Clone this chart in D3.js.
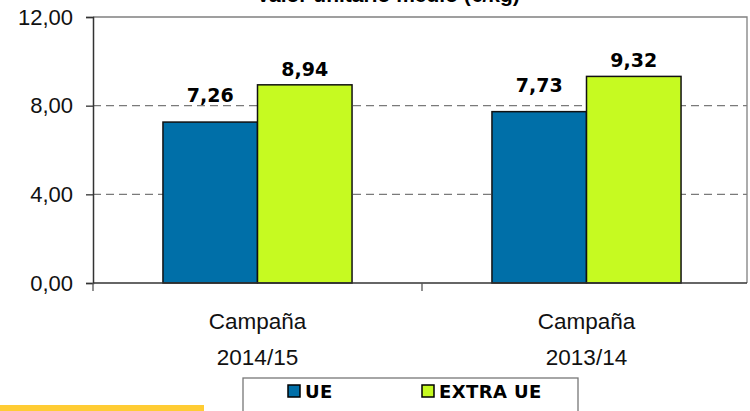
<!DOCTYPE html>
<html>
<head>
<meta charset="utf-8">
<script src="https://cdn.jsdelivr.net/npm/d3@7"></script>
<style>
  body { margin: 0; background: #fff; }
  svg { display: block; font-family: "Liberation Sans", Arial, sans-serif; }
</style>
</head>
<body>
<svg width="750" height="411"></svg>
<script>
const categories = [["Campaña", "2014/15"], ["Campaña", "2013/14"]];
const series = ["UE", "EXTRA UE"];
const valuesUE = [7.26, 7.73];
const valuesExtra = [8.94, 9.32];
const yTicks = [0, 4, 8, 12];
const title = "Valor unitario medio (€/kg)";

const colors = { "UE": "#006FA8", "EXTRA UE": "#C6FA21" };

const width = 750;
const height = 411;
const margin = { top: 17, right: -1, bottom: 128, left: 93 };
const frameRight = 747;

const svg = d3.select("svg");

// sanitizing data
let data = [];
categories.forEach((cat, i) => {
  data.push({ cat: i, "UE": valuesUE[i], "EXTRA UE": valuesExtra[i] });
});

// scales
const xScale = d3
  .scaleBand()
  .domain(d3.range(categories.length))
  .range([margin.left, width - margin.right]);

const xInner = d3
  .scaleBand()
  .domain(series)
  .range([0, xScale.bandwidth()])
  .paddingOuter(0.74)
  .paddingInner(0);

const yScale = d3
  .scaleLinear()
  .domain([0, 12])
  .range([height - margin.bottom, margin.top]);

const fmt = v => d3.format(".2f")(v).replace(".", ",");

// title (cut off at the top, as in the original)
svg
  .append("text")
  .attr("x", 388)
  .attr("y", 2)
  .attr("text-anchor", "middle")
  .attr("font-size", 21)
  .attr("font-weight", "bold")
  .attr("fill", "#000")
  .text(title);

// grid lines
svg
  .append("g")
  .selectAll("line")
  .data(yTicks.filter(t => t > 0 && t < 12))
  .join("line")
  .attr("x1", margin.left)
  .attr("x2", frameRight)
  .attr("y1", d => yScale(d))
  .attr("y2", d => yScale(d))
  .attr("stroke", "#7a7a7a")
  .attr("stroke-width", 1.3)
  .attr("stroke-dasharray", "8,5");

// frame top + right
svg
  .append("path")
  .attr("d", `M${margin.left},${yScale(12)}H${frameRight}V${yScale(0)}`)
  .attr("fill", "none")
  .attr("stroke", "#808080")
  .attr("stroke-width", 1.3);

// bars
const groups = svg
  .append("g")
  .selectAll("g")
  .data(data)
  .join("g")
  .attr("transform", d => `translate(${xScale(d.cat)},0)`);

groups
  .selectAll("rect")
  .data(d => series.map(s => ({ key: s, value: d[s] })))
  .join("rect")
  .attr("x", d => xInner(d.key))
  .attr("y", d => yScale(d.value))
  .attr("width", xInner.bandwidth())
  .attr("height", d => yScale(0) - yScale(d.value))
  .attr("fill", d => colors[d.key])
  .attr("stroke", "#111")
  .attr("stroke-width", 1.5);

groups
  .selectAll("text.value")
  .data(d => series.map(s => ({ key: s, value: d[s] })))
  .join("text")
  .attr("class", "value")
  .attr("x", d => xInner(d.key) + xInner.bandwidth() / 2)
  .attr("y", d => yScale(d.value) - (d.key === "UE" ? 20 : 9))
  .attr("text-anchor", "middle")
  .attr("font-size", 19)
  .attr("font-weight", "bold")
  .attr("font-family", "DejaVu Sans, sans-serif")
  .attr("fill", "#000")
  .text(d => fmt(d.value));

// axes
const yAxis = d3
  .axisLeft(yScale)
  .tickValues(yTicks)
  .tickSize(7)
  .tickPadding(13)
  .tickFormat(fmt);

const gy = svg
  .append("g")
  .attr("transform", `translate(${margin.left},0)`)
  .call(yAxis);
gy.select(".domain").attr("stroke", "#333").attr("stroke-width", 1.5);
gy.selectAll(".tick line").attr("stroke", "#333").attr("stroke-width", 1.3);
gy.selectAll(".tick text")
  .attr("font-size", 22)
  .attr("font-family", "Liberation Sans, Arial, sans-serif")
  .attr("fill", "#111");

// bottom axis with ticks between categories
const xAxisLine = svg.append("g");
xAxisLine
  .append("line")
  .attr("x1", margin.left)
  .attr("x2", frameRight)
  .attr("y1", yScale(0))
  .attr("y2", yScale(0))
  .attr("stroke", "#333")
  .attr("stroke-width", 1.5);
xAxisLine
  .selectAll("line.tick")
  .data(d3.range(categories.length))
  .join("line")
  .attr("class", "tick")
  .attr("x1", d => margin.left + d * xScale.bandwidth())
  .attr("x2", d => margin.left + d * xScale.bandwidth())
  .attr("y1", yScale(0))
  .attr("y2", yScale(0) + 8)
  .attr("stroke", "#555")
  .attr("stroke-width", 1.3);

svg
  .append("g")
  .selectAll("text")
  .data(data)
  .join("text")
  .attr("x", d => xScale(d.cat) + xScale.bandwidth() / 2)
  .attr("y", yScale(0) + 46)
  .attr("text-anchor", "middle")
  .attr("font-size", 22.5)
  .attr("font-family", "Liberation Sans, Arial, sans-serif")
  .attr("fill", "#111")
  .each(function (d) {
    const t = d3.select(this);
    categories[d.cat].forEach((line, j) => {
      t.append("tspan")
        .attr("x", xScale(d.cat) + xScale.bandwidth() / 2)
        .attr("dy", j === 0 ? 0 : 36)
        .text(line);
    });
  });

// legend
const legend = svg.append("g");
legend
  .append("rect")
  .attr("x", 243)
  .attr("y", 378)
  .attr("width", 335)
  .attr("height", 40)
  .attr("fill", "#fff")
  .attr("stroke", "#777")
  .attr("stroke-width", 1.3);

const legendX = [288, 422];
series.forEach((s, i) => {
  legend
    .append("rect")
    .attr("x", legendX[i])
    .attr("y", 385)
    .attr("width", 12)
    .attr("height", 12)
    .attr("fill", colors[s])
    .attr("stroke", "#000")
    .attr("stroke-width", 1.5);
  legend
    .append("text")
    .attr("x", legendX[i] + 17)
    .attr("y", 398)
    .attr("font-size", 18)
    .attr("font-weight", "bold")
    .attr("letter-spacing", 0.4)
    .attr("font-family", "DejaVu Sans, sans-serif")
    .attr("fill", "#000")
    .text(s);
});

// yellow strip bottom-left
svg
  .append("rect")
  .attr("x", 0)
  .attr("y", 405)
  .attr("width", 204)
  .attr("height", 6)
  .attr("fill", "#FFCC33");
</script>
</body>
</html>
